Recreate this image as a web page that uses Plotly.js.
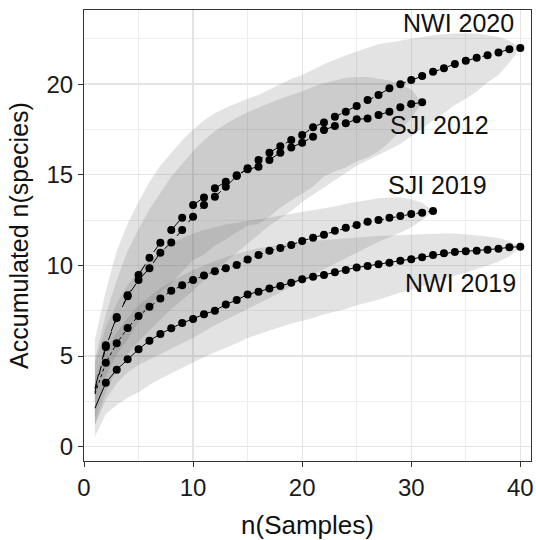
<!DOCTYPE html>
<html>
<head>
<meta charset="utf-8">
<script src="https://cdn.plot.ly/plotly-3.0.1.min.js"></script>
<style>html,body{margin:0;padding:0;background:#fff;}#chart{width:536px;height:540px;}</style>
</head>
<body>
<div id="chart"></div>
<script>
// ---- data ----
const seriesNames = ["NWI 2020", "SJI 2012", "SJI 2019", "NWI 2019"];

const nwi2020 = [3.0, 5.5, 7.1, 8.3, 9.19, 9.84, 10.7, 11.27, 11.95, 12.69, 13.33, 13.79, 14.34, 14.93, 15.36, 15.81, 16.22, 16.58, 16.92, 17.19, 17.62, 17.89, 18.2, 18.48, 18.79, 19.12, 19.4, 19.77, 19.99, 20.23, 20.45, 20.68, 20.87, 21.11, 21.29, 21.46, 21.6, 21.75, 21.92, 22.0];
const nwi2020Upper = [5.9, 8.6, 10.8, 12.3, 13.5, 14.6, 15.5, 16.2, 16.9, 17.5, 18.0, 18.4, 18.7, 18.95, 19.2, 19.4, 19.7, 20.0, 20.3, 20.5, 20.8, 21.1, 21.35, 21.6, 21.8, 22.0, 22.2, 22.3, 22.4, 22.5, 22.6, 22.7, 22.75, 22.8, 22.8, 22.8, 22.7, 22.6, 22.4, 22.0];
const nwi2020Lower = [1.2, 3.0, 4.2, 5.1, 5.8, 6.4, 7.0, 7.6, 8.1, 8.6, 9.2, 9.7, 10.2, 10.7, 11.2, 11.7, 12.2, 12.6, 13.0, 13.5, 13.9, 14.3, 14.7, 15.1, 15.5, 15.8, 16.1, 16.4, 16.7, 17.1, 17.55, 18.0, 18.4, 18.85, 19.2, 19.6, 20.1, 20.5, 21.2, 22.0];

const sji2012 = [3.2, 5.6, 7.15, 8.35, 9.47, 10.42, 11.25, 11.95, 12.63, 13.33, 13.75, 14.25, 14.62, 14.97, 15.3, 15.44, 15.81, 16.22, 16.51, 16.77, 17.1, 17.47, 17.69, 17.84, 18.06, 18.1, 18.3, 18.48, 18.72, 18.9, 19.0];
const sji2012Upper = [4.8, 7.3, 9.2, 10.8, 12.0, 13.1, 14.0, 14.9, 15.6, 16.3, 16.9, 17.4, 17.8, 18.15, 18.45, 18.7, 18.95, 19.2, 19.4, 19.6, 19.85, 20.05, 20.2, 20.35, 20.4, 20.4, 20.3, 20.2, 20.0, 19.7, 19.0];
const sji2012Lower = [1.6, 3.9, 5.1, 5.9, 6.9, 7.7, 8.5, 9.0, 9.65, 10.3, 10.6, 11.1, 11.45, 11.8, 12.2, 12.3, 12.7, 13.2, 13.6, 13.95, 14.35, 14.9, 15.2, 15.4, 15.75, 15.95, 16.3, 16.8, 17.45, 18.1, 19.0];

const sji2019 = [2.9, 4.63, 5.7, 6.55, 7.21, 7.72, 8.18, 8.6, 8.9, 9.19, 9.45, 9.68, 9.85, 10.02, 10.33, 10.57, 10.81, 10.96, 11.13, 11.35, 11.53, 11.69, 11.91, 12.08, 12.23, 12.41, 12.5, 12.63, 12.72, 12.83, 12.9, 13.0];
const sji2019Upper = [4.6, 6.6, 7.9, 8.9, 9.7, 10.3, 10.8, 11.2, 11.5, 11.75, 11.95, 12.1, 12.25, 12.35, 12.45, 12.55, 12.65, 12.75, 12.85, 12.95, 13.05, 13.15, 13.25, 13.4, 13.5, 13.6, 13.7, 13.75, 13.75, 13.65, 13.45, 13.0];
const sji2019Lower = [1.2, 2.6, 3.5, 4.1, 4.5, 4.8, 5.1, 5.4, 5.7, 6.0, 6.35, 6.7, 7.0, 7.3, 7.6, 7.9, 8.2, 8.5, 8.85, 9.2, 9.5, 9.8, 10.1, 10.4, 10.7, 11.0, 11.3, 11.55, 11.8, 12.1, 12.5, 13.0];

const nwi2019 = [2.12, 3.52, 4.25, 4.82, 5.37, 5.85, 6.22, 6.53, 6.82, 7.05, 7.31, 7.5, 7.85, 8.09, 8.4, 8.55, 8.73, 8.86, 9.05, 9.23, 9.38, 9.47, 9.62, 9.75, 9.89, 9.97, 10.07, 10.15, 10.26, 10.34, 10.45, 10.57, 10.67, 10.74, 10.78, 10.81, 10.87, 10.92, 11.0, 11.03];
const nwi2019Upper = [3.8, 5.3, 6.3, 7.1, 7.8, 8.3, 8.75, 9.1, 9.45, 9.75, 10.0, 10.25, 10.45, 10.65, 10.8, 10.95, 11.05, 11.15, 11.25, 11.3, 11.35, 11.4, 11.45, 11.5, 11.55, 11.6, 11.62, 11.65, 11.68, 11.7, 11.72, 11.75, 11.76, 11.76, 11.72, 11.68, 11.6, 11.5, 11.35, 11.0];
const nwi2019Lower = [0.55, 1.8, 2.3, 2.7, 3.0, 3.4, 3.75, 4.05, 4.35, 4.65, 4.95, 5.2, 5.45, 5.7, 6.0, 6.2, 6.4, 6.6, 6.8, 6.95, 7.1, 7.3, 7.45, 7.6, 7.8, 7.95, 8.1, 8.3, 8.5, 8.65, 8.85, 9.05, 9.25, 9.45, 9.6, 9.8, 10.0, 10.2, 10.5, 11.0];

// label positions (data coords)
const labelX = [34.3, 32.6, 32.4, 34.5];
const labelY = [23.4, 17.74, 14.43, 9.01];

const xTicks = [0, 10, 20, 30, 40];
const yTicks = [0, 5, 10, 15, 20];

// ---- build traces ----
const series = [
  {name: seriesNames[0], y: nwi2020, up: nwi2020Upper, lo: nwi2020Lower, dash: "dash"},
  {name: seriesNames[1], y: sji2012, up: sji2012Upper, lo: sji2012Lower, dash: "longdash"},
  {name: seriesNames[2], y: sji2019, up: sji2019Upper, lo: sji2019Lower, dash: "dot"},
  {name: seriesNames[3], y: nwi2019, up: nwi2019Upper, lo: nwi2019Lower, dash: "solid"}
];
const seq = k => Array.from({length: k}, (_, i) => i + 1);

const traces = [];
series.forEach(s => {
  const n = seq(s.y.length);
  traces.push({
    x: n.concat(n.slice().reverse()),
    y: s.up.concat(s.lo.slice().reverse()),
    type: "scatter", mode: "lines", fill: "toself",
    fillcolor: "rgba(100,100,100,0.18)",
    line: {width: 0, color: "rgba(0,0,0,0)"},
    hoverinfo: "skip", showlegend: false
  });
});
series.forEach(s => {
  const n = seq(s.y.length);
  traces.push({
    x: n, y: s.y, type: "scatter", mode: "lines",
    line: {color: "#000", width: 1, dash: s.dash},
    showlegend: false, name: s.name
  });
  traces.push({
    x: n.slice(1), y: s.y.slice(1), type: "scatter", mode: "markers",
    marker: {color: "#000", size: 8},
    showlegend: false, name: s.name
  });
});

const FONT = "Liberation Sans, Arial, sans-serif";
const annotations = seriesNames.map((t, i) => ({
  x: labelX[i], y: labelY[i], xref: "x", yref: "y", text: t, showarrow: false,
  xanchor: "center", yanchor: "middle",
  font: {family: FONT, size: 25, color: "#111"}
}));

const axisCommon = {
  showline: true, mirror: true, linecolor: "#333", linewidth: 1,
  ticks: "outside", ticklen: 5, tickcolor: "#333", tickwidth: 1,
  showgrid: true, gridcolor: "#e4e4e4", gridwidth: 1.3,
  zeroline: false,
  tickfont: {family: FONT, size: 24, color: "#1a1a1a"}
};

const layout = {
  width: 536, height: 540,
  margin: {l: 84, r: 5, t: 10, b: 79},
  paper_bgcolor: "#fff", plot_bgcolor: "#fff",
  showlegend: false,
  xaxis: Object.assign({}, axisCommon, {
    range: [0, 40.98], tickvals: xTicks, ticktext: xTicks.map(String),
    minor: {tickvals: [5, 15, 25, 35], showgrid: true, gridcolor: "#ececec", gridwidth: 1, ticks: ""},
    title: {text: "n(Samples)", standoff: 16,
      font: {family: FONT, size: 26, color: "#111"}}
  }),
  yaxis: Object.assign({}, axisCommon, {
    range: [-0.79, 24.09], tickvals: yTicks, ticktext: yTicks.map(String),
    minor: {tickvals: [2.5, 7.5, 12.5, 17.5, 22.5], showgrid: true, gridcolor: "#ececec", gridwidth: 1, ticks: ""},
    title: {text: "Accumulated n(species)", standoff: 10,
      font: {family: FONT, size: 25, color: "#111"}}
  }),
  annotations: annotations
};

Plotly.newPlot("chart", traces, layout, {staticPlot: true, displayModeBar: false});
</script>
</body>
</html>
